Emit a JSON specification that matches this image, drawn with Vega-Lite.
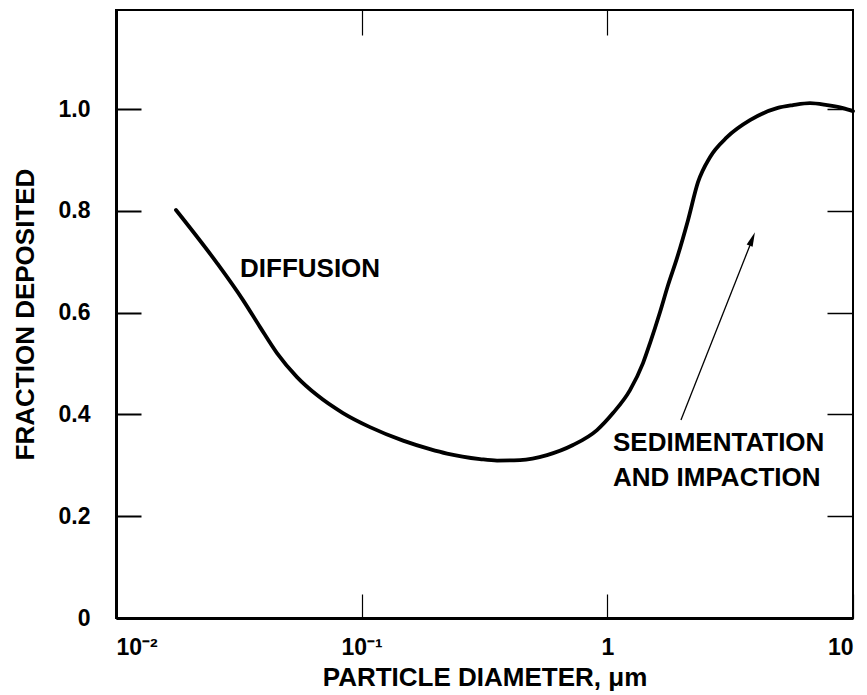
{
  "$schema": "https://vega.github.io/schema/vega-lite/v6.json",
  "autosize": {"type": "none"},
  "padding": {"left": 116, "top": 10, "right": 14, "bottom": 77},
  "width": 737,
  "height": 608,
  "background": "white",
  "config": {
    "font": "Liberation Sans",
    "view": {"stroke": "black", "strokeWidth": 2},
    "axis": {
      "labelFont": "Liberation Sans",
      "labelFontWeight": "bold",
      "labelFontSize": 23,
      "labelColor": "black",
      "titleFont": "Liberation Sans",
      "titleFontWeight": "bold",
      "titleFontSize": 26,
      "titleColor": "black",
      "grid": false,
      "domainColor": "black",
      "tickColor": "black"
    }
  },
  "datasets": {
    "curve": [
      {"d": 0.01754, "f": 0.802},
      {"d": 0.02577, "f": 0.6975},
      {"d": 0.03289, "f": 0.6248},
      {"d": 0.03858, "f": 0.5717},
      {"d": 0.04521, "f": 0.5206},
      {"d": 0.05455, "f": 0.4735},
      {"d": 0.0658, "f": 0.4381},
      {"d": 0.08395, "f": 0.4028},
      {"d": 0.1081, "f": 0.3752},
      {"d": 0.1474, "f": 0.3487},
      {"d": 0.1897, "f": 0.332},
      {"d": 0.2225, "f": 0.3232},
      {"d": 0.3032, "f": 0.3124},
      {"d": 0.3556, "f": 0.3094},
      {"d": 0.4411, "f": 0.3104},
      {"d": 0.5682, "f": 0.3202},
      {"d": 0.7248, "f": 0.3399},
      {"d": 0.9077, "f": 0.3694},
      {"d": 1.0546, "f": 0.4028},
      {"d": 1.2367, "f": 0.4479},
      {"d": 1.397, "f": 0.501},
      {"d": 1.492, "f": 0.5403},
      {"d": 1.638, "f": 0.601},
      {"d": 1.766, "f": 0.654},
      {"d": 1.921, "f": 0.7073},
      {"d": 2.13, "f": 0.7819},
      {"d": 2.339, "f": 0.8566},
      {"d": 2.617, "f": 0.9057},
      {"d": 3.07, "f": 0.945},
      {"d": 3.808, "f": 0.9784},
      {"d": 4.905, "f": 1.002},
      {"d": 5.697, "f": 1.008},
      {"d": 6.681, "f": 1.012},
      {"d": 7.836, "f": 1.008},
      {"d": 9.105, "f": 1.002},
      {"d": 10, "f": 0.996}
    ],
    "labels": [
      {"d": 0.03197, "f": 0.6857, "label": "DIFFUSION"},
      {"d": 1.0546, "f": 0.3438, "label": "SEDIMENTATION"},
      {"d": 1.0546, "f": 0.275, "label": "AND IMPACTION"}
    ],
    "arrow": [
      {"d": 1.994, "f": 0.389, "d2": 3.808, "f2": 0.7328}
    ],
    "head": [
      {"d": 3.88, "f": 0.7436}
    ]
  },
  "layer": [
    {
      "data": {"name": "curve"},
      "mark": {"type": "line", "color": "black", "strokeWidth": 3.8, "interpolate": "monotone", "strokeCap": "round"},
      "encoding": {
        "x": {
          "field": "d", "type": "quantitative",
          "scale": {"type": "log", "domain": [0.01, 10], "nice": false},
          "axis": {
            "orient": "bottom",
            "title": "PARTICLE DIAMETER, μm",
            "values": [0.01, 0.1, 1, 10],
            "labelExpr": "datum.value < 0.05 ? '10⁻²' : datum.value < 0.5 ? '10⁻¹' : datum.value < 5 ? '1' : '10'",
            "labelFlush": true,
            "labelPadding": 42,
            "tickSize": -24,
            "tickWidth": 1.2,
            "domainWidth": 3,
            "titlePadding": 5
          }
        },
        "y": {
          "field": "f", "type": "quantitative",
          "scale": {"domain": [0, 1.195], "nice": false, "zero": false},
          "axis": {
            "orient": "left",
            "title": "FRACTION DEPOSITED",
            "values": [0, 0.2, 0.4, 0.6, 0.8, 1.0],
            "labelExpr": "datum.value == 0 ? '0' : format(datum.value, '.1f')",
            "labelPadding": 51,
            "tickSize": -25,
            "tickWidth": 2,
            "domainWidth": 3,
            "titlePadding": 20
          }
        }
      }
    },
    {
      "data": {"name": "arrow"},
      "mark": {"type": "rule", "color": "black", "strokeWidth": 1.3},
      "encoding": {
        "x": {
          "field": "d", "type": "quantitative",
          "scale": {"type": "log", "domain": [0.01, 10], "nice": false},
          "axis": {
            "orient": "top", "title": null, "labels": false,
            "values": [0.1, 1], "tickSize": -25, "tickWidth": 1.2,
            "domain": false
          }
        },
        "y": {
          "field": "f", "type": "quantitative",
          "scale": {"domain": [0, 1.195], "nice": false, "zero": false},
          "axis": {
            "orient": "right", "title": null, "labels": false,
            "values": [0.2, 0.4, 0.6, 0.8, 1.0], "tickSize": -26, "tickWidth": 1.5,
            "domain": false
          }
        },
        "x2": {"field": "d2"},
        "y2": {"field": "f2"}
      }
    },
    {
      "data": {"name": "head"},
      "mark": {"type": "point", "shape": "M0,-1L-0.4,0.8L0.4,0.8Z", "filled": true, "color": "black", "opacity": 1, "size": 256, "angle": 21.5},
      "encoding": {
        "x": {"field": "d", "type": "quantitative", "scale": {"type": "log", "domain": [0.01, 10], "nice": false}, "axis": null},
        "y": {"field": "f", "type": "quantitative", "scale": {"domain": [0, 1.195], "nice": false, "zero": false}, "axis": null}
      }
    },
    {
      "data": {"name": "labels"},
      "mark": {"type": "text", "align": "left", "baseline": "middle", "font": "Liberation Sans", "fontWeight": "bold", "fontSize": 26, "color": "black"},
      "encoding": {
        "x": {"field": "d", "type": "quantitative", "scale": {"type": "log", "domain": [0.01, 10], "nice": false}, "axis": null},
        "y": {"field": "f", "type": "quantitative", "scale": {"domain": [0, 1.195], "nice": false, "zero": false}, "axis": null},
        "text": {"field": "label", "type": "nominal"}
      }
    }
  ],
  "resolve": {"axis": {"x": "independent", "y": "independent"}}
}
